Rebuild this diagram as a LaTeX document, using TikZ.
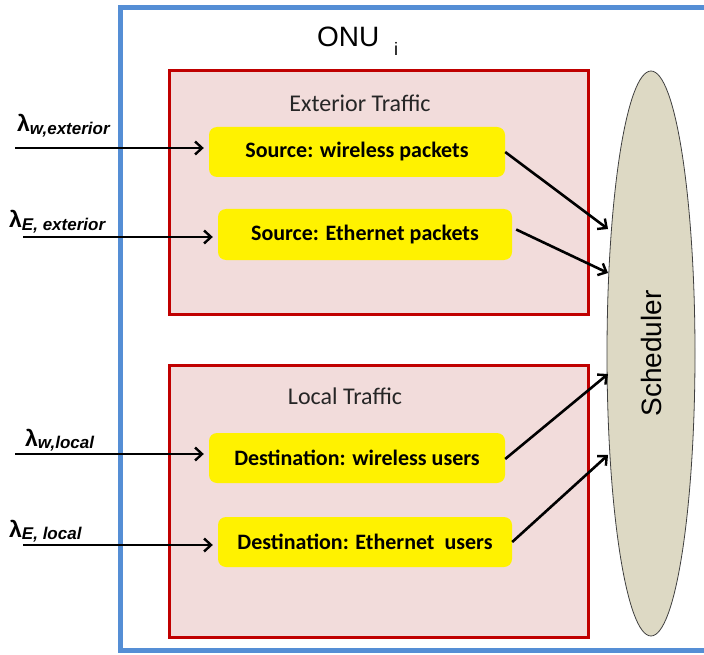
\documentclass[tikz,border=0pt]{standalone}
\usepackage{fontspec}
\setmainfont{Liberation Sans}
\newfontfamily\calfont{Carlito}
\usetikzlibrary{arrows.meta,shapes.geometric}
\definecolor{onublue}{HTML}{558ED5}
\definecolor{boxred}{HTML}{C00000}
\definecolor{boxpink}{HTML}{F2DCDB}
\definecolor{schedfill}{HTML}{DDD9C4}
\definecolor{scheddraw}{HTML}{404040}
\newcommand{\lamsub}[1]{\raisebox{-2.5pt}{\fontsize{17}{18}\selectfont\bfseries\itshape #1}}
\tikzset{
  trafficbox/.style={draw=boxred, fill=boxpink, line width=3pt},
  srcbox/.style={fill=yellow, rounded corners=8pt, inner sep=0pt, font=\calfont\bfseries\fontsize{22}{26}\selectfont},
  arr/.style={draw=black, line width=2.6pt, -{Straight Barb[length=7pt,width=13pt,line width=2.4pt]}},
  lam/.style={anchor=base west, inner sep=0pt, font=\bfseries\fontsize{23}{26}\selectfont},
  title/.style={inner sep=0pt, font=\calfont\fontsize{24}{28}\selectfont, text=black!85},
}
\begin{document}
\begin{tikzpicture}[x=1pt,y=-1pt]
\useasboundingbox (0,0) rectangle (704,655);
\begin{scope}
\clip (0,0) rectangle (704,655);
\draw[onublue, line width=5pt] (120,7.5) rectangle (730,650.5);
\end{scope}
\node[anchor=base west, inner sep=0pt, font=\fontsize{28}{32}\selectfont] (onu) at (317,47) {ONU};
\node[anchor=base west, inner sep=0pt, font=\fontsize{18}{20}\selectfont] (onui) at (394,56) {i};
% traffic boxes
\draw[trafficbox] (169,71) rectangle (588,314);
\draw[trafficbox] (169,365) rectangle (588,637);
\node[title, anchor=base] (ext) at (360,112) {Exterior Traffic};
\node[title, anchor=base] (loc) at (345,404) {Local Traffic};
% yellow boxes
\node[srcbox, minimum width=296pt, minimum height=50pt] (y1) at (357,152) {Source: wireless packets};
\node[srcbox, minimum width=294pt, minimum height=51pt] (y2) at (365,234.5) {Source: Ethernet packets};
\node[srcbox, minimum width=296pt, minimum height=50pt] (y3) at (357,458) {Destination: wireless users};
\node[srcbox, minimum width=294pt, minimum height=50pt] (y4) at (365,542) {Destination: Ethernet\ \ users};
% scheduler
\node[ellipse, draw=scheddraw, fill=schedfill, line width=0.8pt, minimum width=88pt, minimum height=565pt, inner sep=0pt] (sched) at (651,353.5) {};
\node[rotate=90, inner sep=0pt, font=\fontsize{28}{30}\selectfont] (schedtxt) at (sched.center) {Scheduler};
% lambda labels
\node[lam] (l1) at (17,132) {λ\lamsub{w,exterior}};
\node[lam] (l2) at (9,228) {λ\lamsub{E, exterior}};
\node[lam] (l3) at (25,446) {λ\lamsub{w,local}};
\node[lam] (l4) at (9,537) {λ\lamsub{E, local}};
% input arrows
\coordinate (i1) at (15,148);
\coordinate (i2) at (23,237);
\coordinate (i3) at (15,454);
\coordinate (i4) at (23,545);
\draw[arr, shorten >=5pt] (i1) -- (i1 -| y1.west);
\draw[arr, shorten >=5pt] (i2) -- (i2 -| y2.west);
\draw[arr, shorten >=5pt] (i3) -- (i3 -| y3.west);
\draw[arr, shorten >=5pt] (i4) -- (i4 -| y4.west);
% output arrows
\coordinate (s1) at (608,229);
\coordinate (s2) at (608,273);
\coordinate (s3) at (608,374);
\coordinate (s4) at (608,455);
\draw[arr] (y1.east) -- (s1);
\draw[arr] ([xshift=4pt,yshift=5pt]y2.east) -- (s2);
\draw[arr] ([yshift=-1pt]y3.east) -- (s3);
\draw[arr] (y4.east) -- (s4);
\end{tikzpicture}
\end{document}
